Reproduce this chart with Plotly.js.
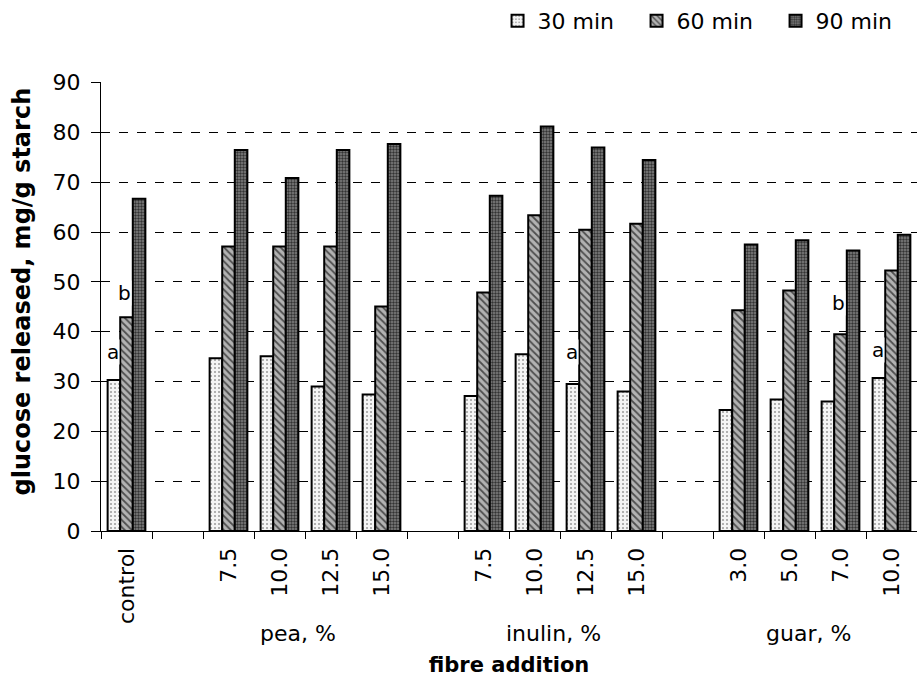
<!DOCTYPE html>
<html>
<head>
<meta charset="utf-8">
<script src="https://cdn.plot.ly/plotly-3.0.1.min.js"></script>
<style>html,body{margin:0;padding:0;background:#fff;overflow:hidden}#chart{width:917px;height:677px}</style>
</head>
<body>
<div id="chart"></div>
<script>
// category slots (gaps are empty slots between fibre groups)
const slotIds    = ['control','gap1','pea7.5','pea10.0','pea12.5','pea15.0','gap2','inu7.5','inu10.0','inu12.5','inu15.0','gap3','guar3.0','guar5.0','guar7.0','guar10.0'];
const slotLabels = ['control','','7.5','10.0','12.5','15.0','','7.5','10.0','12.5','15.0','','3.0','5.0','7.0','10.0'];
const groupLabels = ['pea, %','inulin, %','guar, %'];
const groupCenters = [3.5, 8.5, 13.5];

const seriesNames = ['30 min','60 min','90 min'];
const min30 = [30.3, null, 34.7, 35.1, 29.0, 27.4, null, 27.1, 35.5, 29.5, 28.0, null, 24.3, 26.4, 26.0, 30.7];
const min60 = [42.9, null, 57.1, 57.1, 57.1, 45.1, null, 47.9, 63.4, 60.5, 61.7, null, 44.3, 48.3, 39.5, 52.3];
const min90 = [66.7, null, 76.5, 70.9, 76.5, 77.7, null, 67.3, 81.2, 77.0, 74.5, null, 57.5, 58.4, 56.3, 59.5];

// significance letters: [slot id, series index, letter, y value]
const letters = [
  ['control', 0, 'a', 36],
  ['control', 1, 'b', 47.8],
  ['inu12.5', 0, 'a', 36],
  ['guar7.0', 1, 'b', 45.7],
  ['guar10.0', 0, 'a', 36.4]
];

const FONT = 'DejaVu Sans, Liberation Sans, sans-serif';
const styles = [
  {bg:'#f4f4f4', fg:'#9a9a9a', shape:'.', size:4, sol:0.2},
  {bg:'#b2b2b2', fg:'#4e4e4e', shape:'\\', size:5, sol:0.35},
  {bg:'#828282', fg:'#333333', shape:'.', size:3, sol:0.5}
];
const vals = [min30, min60, min90];
const traces = vals.map((v, i) => ({
  type:'bar', name: seriesNames[i], x: slotIds, y: v,
  marker:{color: styles[i].bg, line:{color:'#000', width:2},
    pattern:{shape: styles[i].shape, fgcolor: styles[i].fg, bgcolor: styles[i].bg, size: styles[i].size, solidity: styles[i].sol}},
  hoverinfo:'skip'
}));

const offsets = [-14, -2, 12.7];
const annotations = letters.map(l => ({
  x: slotIds.indexOf(l[0]), y: l[3], xref:'x', yref:'y', text: l[2], showarrow:false,
  xshift: offsets[l[1]], bgcolor:'#fff', borderpad:0, font:{family:FONT, size:20, color:'#000'}
}));
groupLabels.forEach((g, i) => annotations.push({
  x: groupCenters[i], y: 0, xref:'x', yref:'y', yshift:-102, xshift:-7, text: g, showarrow:false,
  font:{family:FONT, size:22, color:'#000'}
}));
// y-axis title
annotations.push({
  xref:'paper', yref:'paper', x:-0.097, y:0.533, xanchor:'center', yanchor:'middle', textangle:-90,
  text:'<b>glucose released, mg/g starch</b>', showarrow:false, font:{family:FONT, size:24, color:'#000'}
});

const layout = {
  width:917, height:677,
  margin:{l:101, r:0, t:81, b:146},
  paper_bgcolor:'#fff', plot_bgcolor:'#fff',
  font:{family:FONT, color:'#000'},
  barmode:'group', bargap:0.26, bargroupgap:0,
  showlegend:true,
  legend:{orientation:'h', x:0.997, xanchor:'right', y:1.136, yanchor:'middle', entrywidth:94,
    font:{family:FONT, size:22, color:'#000'}, traceorder:'normal', bgcolor:'rgba(0,0,0,0)'},
  xaxis:{type:'category', categoryorder:'array', categoryarray: slotIds,
    tickmode:'array', tickvals: slotIds, ticktext: slotLabels, tickson:'boundaries',
    ticks:'outside', ticklen:7, tickcolor:'#000', tickangle:-90, ticklabelstandoff:7,
    tickfont:{family:FONT, size:22, color:'#000'},
    showline:true, linecolor:'#000', linewidth:1, showgrid:false, zeroline:false,
    range:[-0.5, 15.5],
    title:{text:'<b>fibre addition</b>', font:{family:FONT, size:21, color:'#000'}, standoff:50}},
  yaxis:{range:[0,90.15], dtick:10, tick0:0, ticks:'outside', ticklen:9, tickcolor:'#000',
    showline:true, linecolor:'#000', linewidth:1, ticklabelstandoff:6,
    showgrid:true, gridcolor:'#000', gridwidth:1, griddash:'dash', zeroline:false,
    tickfont:{family:FONT, size:22, color:'#000'}},
  annotations: annotations
};

Plotly.newPlot('chart', traces, layout, {displayModeBar:false, staticPlot:true});
</script>
</body>
</html>
